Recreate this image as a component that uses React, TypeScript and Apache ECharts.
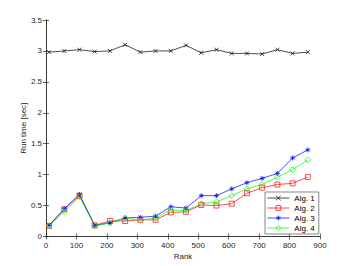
import React, { useEffect, useRef } from "react";
import * as echarts from "echarts";

const ranks = [10, 60, 110, 160, 210, 260, 310, 360, 410, 460, 510, 560, 610, 660, 710, 760, 810, 860];
const alg1 = [2.98, 3.0, 3.02, 2.99, 3.0, 3.1, 2.98, 3.0, 3.0, 3.09, 2.97, 3.02, 2.96, 2.96, 2.95, 3.02, 2.96, 2.98];
const alg2 = [0.17, 0.44, 0.66, 0.18, 0.25, 0.25, 0.27, 0.27, 0.39, 0.4, 0.51, 0.5, 0.53, 0.7, 0.79, 0.84, 0.86, 0.96];
const alg3 = [0.18, 0.45, 0.68, 0.18, 0.22, 0.3, 0.31, 0.33, 0.48, 0.46, 0.66, 0.66, 0.77, 0.87, 0.94, 1.02, 1.27, 1.4];
const alg4 = [0.17, 0.4, 0.64, 0.17, 0.22, 0.3, 0.26, 0.3, 0.43, 0.42, 0.53, 0.56, 0.66, 0.77, 0.84, 0.96, 1.08, 1.24];
const seriesNames = ["Alg. 1", "Alg. 2", "Alg. 3", "Alg. 4"];

const X_SYM = "path://M0,0L10,10M10,0L0,10";
const STAR_SYM = "path://M5,0L5,10M0,5L10,5M1.5,1.5L8.5,8.5M8.5,1.5L1.5,8.5";
const SQ_SYM = "path://M0,0L10,0L10,10L0,10Z";
const DIA_SYM = "path://M5,0L10,5L5,10L0,5Z";

const FONT = "'Liberation Sans', Arial, Helvetica, sans-serif";
const AX = "#262626";
const FS = 8;

export default function App() {
  const ref = useRef<HTMLDivElement>(null);
  useEffect(() => {
    if (!ref.current) return;
    const chart = echarts.init(ref.current, undefined, { renderer: "svg" });
    const mk = (name: string, data: number[], color: string, symbol: string, size: number) => ({
      name,
      type: "line",
      data: ranks.map((r, i) => [r, data[i]]),
      symbol,
      symbolSize: size,
      lineStyle: { color, width: 0.7 },
      itemStyle: { color: "rgba(0,0,0,0)", borderColor: color, borderWidth: 0.7 },
      emphasis: { disabled: true },
    });
    const axisCommon = {
      axisLine: { show: true, lineStyle: { color: AX, width: 0.7 } },
      axisTick: { show: true, inside: true, length: 3, lineStyle: { color: AX, width: 0.7 } },
      splitLine: { show: false },
    };
    chart.setOption({
      animation: false,
      backgroundColor: "#fff",
      textStyle: { fontFamily: FONT },
      grid: { left: 46, right: 34, top: 20, bottom: 29.5, containLabel: false },
      xAxis: [
        {
          type: "value",
          min: 0,
          max: 900,
          interval: 100,
          name: "Rank",
          nameLocation: "middle",
          nameGap: 16,
          nameMoveOverlap: false,
          nameTextStyle: { fontSize: FS, color: AX, fontFamily: FONT },
          axisLabel: { fontSize: FS, color: AX, margin: 5, fontFamily: FONT },
          ...axisCommon,
        },
        {
          type: "value",
          position: "top",
          min: 0,
          max: 900,
          interval: 100,
          axisLabel: { show: false },
          ...axisCommon,
        },
      ],
      yAxis: [
        {
          type: "value",
          min: 0,
          max: 3.5,
          interval: 0.5,
          name: "Run time [sec]",
          nameLocation: "middle",
          nameGap: 19,
          nameMoveOverlap: false,
          nameTextStyle: { fontSize: FS, color: AX, fontFamily: FONT },
          axisLabel: { fontSize: FS, color: AX, margin: 4, fontFamily: FONT },
          ...axisCommon,
        },
        {
          type: "value",
          position: "right",
          min: 0,
          max: 3.5,
          interval: 0.5,
          axisLabel: { show: false },
          ...axisCommon,
        },
      ],
      legend: {
        data: seriesNames,
        orient: "vertical",
        left: 265,
        top: 192,
        padding: [2, 4, 2, 2],
        itemGap: 2,
        itemWidth: 22,
        itemHeight: 6,
        borderColor: "#555",
        borderWidth: 0.7,
        backgroundColor: "#fff",
        itemStyle: { color: "rgba(0,0,0,0)", borderWidth: 0.7 },
        lineStyle: { width: 0.7 },
        textStyle: { fontSize: FS, color: "#000", fontFamily: FONT },
      },
      series: [
        mk(seriesNames[0], alg1, "#000000", X_SYM, 4),
        mk(seriesNames[1], alg2, "#ff0000", SQ_SYM, 5),
        mk(seriesNames[2], alg3, "#0000ff", STAR_SYM, 5),
        mk(seriesNames[3], alg4, "#00ff00", DIA_SYM, 6),
      ],
    });
    return () => chart.dispose();
  }, []);
  return (
    <div style={{ position: "fixed", left: 0, top: 0, width: 354, height: 266, overflow: "hidden" }}>
      <div ref={ref} style={{ width: 354, height: 266 }} />
    </div>
  );
}
